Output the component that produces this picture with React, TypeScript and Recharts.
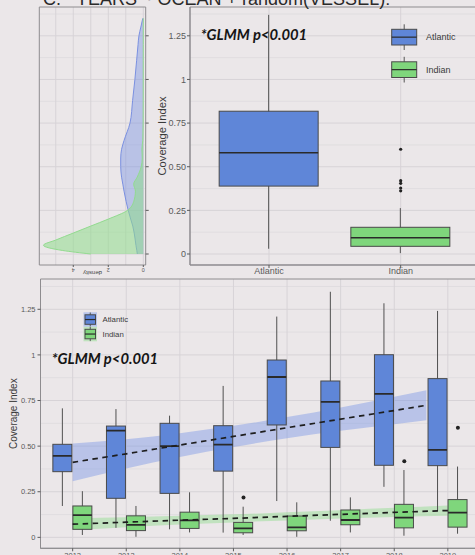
import React from 'react';
import {
  ComposedChart,
  Bar,
  Cell,
  XAxis,
  YAxis,
  CartesianGrid,
  Area,
  Line,
  Scatter,
  ReferenceArea,
} from 'recharts';

// ---------- shared ----------
const yTicks = [0, 0.25, 0.5, 0.75, 1, 1.25];
const yTickLabels = ['0', '0.25', '0.50', '0.75', '1', '1.25'];
const yMinor = [0.125, 0.375, 0.625, 0.875, 1.125, 1.375];
const oceans = ['Atlantic', 'Indian'];
const boxColors = ['#5f86d8', '#7fd67c'];
const bandColors = ['#6f8ee6', '#8fdc8c'];

// ---------- density panel ----------
const densityCov = [0, 0.02, 0.05, 0.08, 0.12, 0.16, 0.2, 0.25, 0.3, 0.36, 0.4, 0.44, 0.5, 0.55, 0.6, 0.65, 0.75, 0.88, 1.0, 1.11, 1.2, 1.25, 1.3, 1.35];
const densityAtl = [0.34, 0.37, 0.42, 0.46, 0.52, 0.6, 0.72, 0.86, 0.98, 1.1, 1.17, 1.24, 1.29, 1.29, 1.24, 1.1, 0.76, 0.61, 0.48, 0.38, 0.3, 0.25, 0.14, 0.03];
const densityInd = [3.0, 4.6, 5.7, 5.0, 4.0, 3.0, 2.0, 0.9, 0.55, 0.45, 0.55, 0.35, 0.12, 0.06, 0.08, 0.03, 0.01, 0.005, 0.004, 0.003, 0.002, 0.002, 0.001, 0.0];
const densityTicks = [0, 2, 4];
const densityGrid = [0, 1, 2, 3, 4, 5];

// ---------- overall boxplot (top right) ----------
const oceanMin = [0.03, 0.005];
const oceanQ1 = [0.389, 0.044];
const oceanMed = [0.58, 0.093];
const oceanQ3 = [0.818, 0.153];
const oceanMax = [1.37, 0.263];
const oceanOutlierOcean = ['Indian', 'Indian', 'Indian', 'Indian', 'Indian'];
const oceanOutlierValue = [0.6, 0.42, 0.405, 0.378, 0.362];

// ---------- yearly boxplot (bottom) ----------
const years = ['2012', '2013', '2014', '2015', '2016', '2017', '2018', '2019'];
const atlMin = [0.172, 0.052, 0.044, 0.026, 0.199, 0.091, 0.277, 0.144];
const atlQ1 = [0.36, 0.214, 0.241, 0.363, 0.616, 0.493, 0.395, 0.393];
const atlMed = [0.447, 0.585, 0.5, 0.508, 0.879, 0.742, 0.786, 0.48];
const atlQ3 = [0.51, 0.61, 0.625, 0.612, 0.972, 0.857, 1.001, 0.87];
const atlMax = [0.707, 0.703, 0.667, 0.83, 1.21, 1.346, 1.283, 1.241];
const indMin = [0.013, 0.003, 0.027, 0.013, 0.003, 0.027, 0.009, 0.02];
const indQ1 = [0.044, 0.037, 0.049, 0.025, 0.036, 0.069, 0.052, 0.056];
const indMed = [0.122, 0.068, 0.093, 0.049, 0.055, 0.095, 0.108, 0.135];
const indQ3 = [0.172, 0.118, 0.138, 0.082, 0.117, 0.15, 0.181, 0.207];
const indMax = [0.253, 0.172, 0.247, 0.168, 0.192, 0.219, 0.369, 0.388];
const yearOutlierYear = ['2015', '2018', '2019'];
const yearOutlierValue = [0.219, 0.417, 0.601];

const atlTrendX = [0, 1, 2, 3, 4, 5, 6, 6.6];
const atlTrendFit = [0.411, 0.458, 0.506, 0.553, 0.601, 0.648, 0.695, 0.724];
const atlTrendLo = [0.308, 0.378, 0.441, 0.495, 0.543, 0.584, 0.62, 0.642];
const atlTrendHi = [0.514, 0.538, 0.571, 0.611, 0.659, 0.712, 0.77, 0.806];
const indTrendX = [0, 1, 2, 3, 4, 5, 6, 7];
const indTrendFit = [0.072, 0.083, 0.094, 0.104, 0.115, 0.126, 0.137, 0.147];
const indTrendLo = [0.04, 0.056, 0.07, 0.082, 0.093, 0.103, 0.112, 0.119];
const indTrendHi = [0.104, 0.11, 0.118, 0.126, 0.137, 0.149, 0.162, 0.175];

// ---------- built tables ----------
const densityData = densityCov.map((c, i) => ({ cov: c, atl: densityAtl[i], ind: densityInd[i] }));
const oceanData = oceans.map((o, i) => ({
  ocean: o,
  min: oceanMin[i], q1: oceanQ1[i], med: oceanMed[i], q3: oceanQ3[i], max: oceanMax[i],
}));
const oceanOutliers = oceanOutlierOcean.map((o, i) => ({ x: oceans.indexOf(o), y: oceanOutlierValue[i] }));
const yearData = years.map((y, i) => ({
  year: y,
  aMin: atlMin[i], aQ1: atlQ1[i], aMed: atlMed[i], aQ3: atlQ3[i], aMax: atlMax[i],
  iMin: indMin[i], iQ1: indQ1[i], iMed: indMed[i], iQ3: indQ3[i], iMax: indMax[i],
}));
const DODGE = 0.1875;
const yearOutliers = yearOutlierYear.map((y, i) => ({ x: years.indexOf(y) + DODGE, y: yearOutlierValue[i] }));
const atlTrend = atlTrendX.map((x, i) => ({ x, fit: atlTrendFit[i], lo: atlTrendLo[i], hi: atlTrendHi[i] }));
const indTrend = indTrendX.map((x, i) => ({ x, fit: indTrendFit[i], lo: indTrendLo[i], hi: indTrendHi[i] }));

const GRID = '#d7d3d7';
const GRID_MINOR = '#e0dde0';
const BORDER = '#8e8c8f';
const TICK = '#5a5a5a';

function makeBox(keys: { min: string; q1: string; med: string; q3: string; max: string }, medW: number) {
  return (props: any) => {
    const { x, y, width, height, payload, fill } = props;
    const lo = payload[keys.min];
    const hi = payload[keys.max];
    const pos = (v: number) => y + (height * (hi - v)) / (hi - lo);
    const cx = x + width / 2;
    return (
      <g>
        <line x1={cx} x2={cx} y1={pos(hi)} y2={pos(lo)} stroke="#505050" strokeWidth={1} />
        <rect
          x={x}
          y={pos(payload[keys.q3])}
          width={width}
          height={pos(payload[keys.q1]) - pos(payload[keys.q3])}
          fill={fill}
          stroke="#4a4a4a"
          strokeWidth={1}
        />
        <line x1={x} x2={x + width} y1={pos(payload[keys.med])} y2={pos(payload[keys.med])} stroke="#2a2a2a" strokeWidth={medW} />
      </g>
    );
  };
}

const dot = (r: number) => (p: any) => <circle cx={p.cx} cy={p.cy} r={r} fill="#222" />;

const fmtY = (v: number) => {
  const i = yTicks.indexOf(v);
  return i >= 0 ? yTickLabels[i] : '';
};

function DensityTick(props: any) {
  const { x, y, payload } = props;
  return (
    <text x={x} y={y + 3} fontSize={5.5} fill={TICK} textAnchor="middle" transform={`rotate(180 ${x} ${y + 1.5})`}>
      {String(payload.value)}
    </text>
  );
}

function DensityLabel(props: any) {
  const vb = props.viewBox;
  const cx = vb.x + vb.width / 2;
  const cy = vb.y + 8;
  return (
    <text x={cx} y={cy + 2} fontSize={6} fill="#444" textAnchor="middle" transform={`rotate(180 ${cx} ${cy})`}>
      density
    </text>
  );
}

function LegendKey({ x, y, w, h, color, bg, whisk }: any) {
  return (
    <g>
      {bg && <rect x={x - 1.5} y={y - 2.5} width={w + 3} height={h + 5} fill={bg} />}
      <line x1={x + w / 2} x2={x + w / 2} y1={y - whisk} y2={y + h + whisk} stroke="#555" strokeWidth={1} />
      <rect x={x} y={y} width={w} height={h} fill={color} stroke="#4a4a4a" strokeWidth={1} />
      <line x1={x} x2={x + w} y1={y + h / 2} y2={y + h / 2} stroke="#2a2a2a" strokeWidth={1.2} />
    </g>
  );
}

export default function App() {
  return (
    <div
      style={{
        position: 'absolute',
        left: 0,
        top: 0,
        width: 475,
        height: 555,
        overflow: 'hidden',
        background: '#ebe7e9',
        fontFamily: '"Liberation Sans", Arial, sans-serif',
      }}
    >
      {/* density panel */}
      <div style={{ position: 'absolute', left: 0, top: 0 }}>
        <ComposedChart
          width={160}
          height={285}
          data={densityData}
          layout="vertical"
          margin={{ top: 7, right: 0, bottom: 0, left: 39.3 }}
        >
          <CartesianGrid horizontalValues={yMinor} vertical={false} stroke={GRID_MINOR} />
          <CartesianGrid horizontalValues={yTicks} verticalValues={densityGrid} stroke={GRID} />
          <XAxis
            type="number"
            domain={[-0.137, 5.94]}
            allowDataOverflow
            reversed
            ticks={densityTicks}
            height={20}
            tickSize={2}
            tickMargin={1}
            axisLine={false}
            tickLine={{ stroke: TICK }}
            tick={<DensityTick />}
            label={<DensityLabel />}
          />
          <YAxis
            type="number"
            dataKey="cov"
            orientation="right"
            domain={[-0.063, 1.415]}
            allowDataOverflow
            reversed
            ticks={yTicks}
            width={14.3}
            tickSize={3}
            axisLine={false}
            tickLine={{ stroke: TICK }}
            tickFormatter={() => ''}
          />
          <Area
            dataKey="atl"
            type="monotone"
            fill="#7d95e2"
            fillOpacity={0.45}
            stroke="#7a90e0"
            strokeWidth={1}
            isAnimationActive={false}
          />
          <Area
            dataKey="ind"
            type="monotone"
            fill="#8fdc8c"
            fillOpacity={0.55}
            stroke="#92da8f"
            strokeWidth={1}
            isAnimationActive={false}
          />
          <ReferenceArea x1={-0.137} x2={5.94} y1={-0.063} y2={1.415} fill="none" stroke={BORDER} strokeWidth={1} ifOverflow="visible" />
        </ComposedChart>
      </div>

      {/* overall boxplot */}
      <div style={{ position: 'absolute', left: 140, top: 0 }}>
        <ComposedChart
          width={344.7}
          height={285}
          data={oceanData}
          margin={{ top: 7, right: 5, bottom: 0, left: 0 }}
          barSize={99}
        >
          <CartesianGrid horizontalValues={yMinor} vertical={false} stroke={GRID_MINOR} />
          <CartesianGrid xAxisId="num" horizontalValues={yTicks} verticalValues={[0, 1]} stroke={GRID} />
          <XAxis
            xAxisId="cat"
            dataKey="ocean"
            type="category"
            padding={{ left: 13.17, right: 13.17 }}
            height={20}
            tickSize={3}
            tickMargin={0}
            axisLine={{ stroke: BORDER }}
            tickLine={{ stroke: TICK }}
            tick={{ fontSize: 9, fill: TICK }}
          />
          <XAxis xAxisId="num" dataKey="x" type="number" domain={[-0.6, 1.6]} allowDataOverflow hide />
          <YAxis
            dataKey="y"
            type="number"
            domain={[-0.063, 1.415]}
            allowDataOverflow
            ticks={yTicks}
            tickFormatter={fmtY}
            width={50}
            tickSize={3}
            tickMargin={1}
            axisLine={{ stroke: BORDER }}
            tickLine={{ stroke: TICK }}
            tick={{ fontSize: 9, fill: TICK }}
            label={{
              value: 'Coverage Index',
              angle: -90,
              position: 'insideLeft',
              offset: 21.7,
              style: { textAnchor: 'middle', fontSize: 11.2, fill: '#3a3a3a' },
            }}
          />
          <Bar
            xAxisId="cat"
            dataKey={(d: any) => [d.min, d.max]}
            shape={makeBox({ min: 'min', q1: 'q1', med: 'med', q3: 'q3', max: 'max' }, 1.6)}
            isAnimationActive={false}
          >
            {oceanData.map((d, i) => (
              <Cell key={d.ocean} fill={boxColors[i]} />
            ))}
          </Bar>
          <Scatter xAxisId="num" data={oceanOutliers} shape={dot(1.6)} isAnimationActive={false} />
          <ReferenceArea xAxisId="num" x1={-0.6} x2={1.6} y1={-0.063} y2={1.415} fill="none" stroke={BORDER} strokeWidth={1} ifOverflow="visible" />
        </ComposedChart>
      </div>

      {/* yearly boxplot */}
      <div style={{ position: 'absolute', left: 0, top: 270 }}>
        <ComposedChart
          width={485}
          height={300}
          data={yearData}
          margin={{ top: 9, right: 5, bottom: 0, left: 0 }}
          barSize={19}
          barGap={1}
        >
          <CartesianGrid horizontalValues={yMinor} vertical={false} stroke={GRID_MINOR} />
          <CartesianGrid xAxisId="num" horizontalValues={yTicks} verticalValues={[0, 1, 2, 3, 4, 5, 6, 7]} stroke={GRID} />
          <XAxis
            xAxisId="cat"
            dataKey="year"
            type="category"
            padding={{ left: 5.36, right: 5.36 }}
            height={21.7}
            tickSize={3}
            tickMargin={1}
            axisLine={{ stroke: BORDER }}
            tickLine={{ stroke: TICK }}
            tick={{ fontSize: 7.5, fill: TICK }}
          />
          <XAxis xAxisId="num" dataKey="x" type="number" domain={[-0.6, 7.6]} allowDataOverflow hide />
          <YAxis
            dataKey="y"
            type="number"
            domain={[-0.06, 1.416]}
            allowDataOverflow
            ticks={yTicks}
            tickFormatter={fmtY}
            width={40.5}
            tickSize={3}
            tickMargin={2}
            axisLine={{ stroke: BORDER }}
            tickLine={{ stroke: TICK }}
            tick={{ fontSize: 7.5, fill: TICK }}
            label={{
              value: 'Coverage Index',
              angle: -90,
              position: 'insideLeft',
              offset: 13,
              style: { textAnchor: 'middle', fontSize: 10, fill: '#3a3a3a' },
            }}
          />
          <Area
            xAxisId="num"
            data={atlTrend}
            dataKey={(d: any) => [d.lo, d.hi]}
            type="monotone"
            fill={bandColors[0]}
            fillOpacity={0.4}
            stroke="none"
            isAnimationActive={false}
          />
          <Area
            xAxisId="num"
            data={indTrend}
            dataKey={(d: any) => [d.lo, d.hi]}
            type="monotone"
            fill={bandColors[1]}
            fillOpacity={0.45}
            stroke="none"
            isAnimationActive={false}
          />
          <Bar
            xAxisId="cat"
            dataKey={(d: any) => [d.aMin, d.aMax]}
            fill={boxColors[0]}
            shape={makeBox({ min: 'aMin', q1: 'aQ1', med: 'aMed', q3: 'aQ3', max: 'aMax' }, 1.8)}
            isAnimationActive={false}
          />
          <Bar
            xAxisId="cat"
            dataKey={(d: any) => [d.iMin, d.iMax]}
            fill={boxColors[1]}
            shape={makeBox({ min: 'iMin', q1: 'iQ1', med: 'iMed', q3: 'iQ3', max: 'iMax' }, 1.8)}
            isAnimationActive={false}
          />
          <Line
            xAxisId="num"
            data={atlTrend}
            dataKey="fit"
            type="linear"
            stroke="#1e1e1e"
            strokeWidth={1.7}
            strokeDasharray="5.5 4.5"
            dot={false}
            activeDot={false}
            isAnimationActive={false}
          />
          <Line
            xAxisId="num"
            data={indTrend}
            dataKey="fit"
            type="linear"
            stroke="#1e1e1e"
            strokeWidth={1.7}
            strokeDasharray="5.5 4.5"
            dot={false}
            activeDot={false}
            isAnimationActive={false}
          />
          <Scatter xAxisId="num" data={yearOutliers} shape={dot(2)} isAnimationActive={false} />
          <ReferenceArea xAxisId="num" x1={-0.6} x2={7.6} y1={-0.06} y2={1.416} fill="none" stroke={BORDER} strokeWidth={1} ifOverflow="visible" />
        </ComposedChart>
      </div>

      {/* annotations and legends */}
      <svg width={475} height={555} style={{ position: 'absolute', left: 0, top: 0, pointerEvents: 'none' }}>
        <text x={43} y={4.5} fontSize={18} fill="#2a2a2a">
          C.{'\u00a0\u00a0\u00a0'}YEARS ~ OCEAN + random(VESSEL):
        </text>
        <text
          x={200.7}
          y={40}
          fontSize={15.5}
          fontWeight={700}
          fontStyle="italic"
          fontFamily="Lato, 'Open Sans', sans-serif"
          fill="#151515"
          textLength={106.5}
          lengthAdjust="spacingAndGlyphs"
        >
          *GLMM p&lt;0.001
        </text>
        <text
          x={51.7}
          y={363.5}
          fontSize={15}
          fontWeight={700}
          fontStyle="italic"
          fontFamily="Lato, 'Open Sans', sans-serif"
          fill="#151515"
          textLength={106.5}
          lengthAdjust="spacingAndGlyphs"
        >
          *GLMM p&lt;0.001
        </text>
        {oceans.map((o, i) => (
          <g key={'tl' + o}>
            <LegendKey x={391.7} y={29.3 + i * 32.5} w={25} h={15.7} color={boxColors[i]} whisk={5} />
            <text x={426} y={40.3 + i * 32.5} fontSize={9} fill="#3a3a3a">
              {o}
            </text>
          </g>
        ))}
        {oceans.map((o, i) => (
          <g key={'bl' + o}>
            <LegendKey
              x={85}
              y={314.8 + i * 14.5}
              w={10.5}
              h={9.5}
              color={boxColors[i]}
              bg={i === 0 ? '#b7c4ea' : '#bfe3bd'}
              whisk={2.3}
            />
            <text x={102.5} y={322.3 + i * 14.5} fontSize={7.8} fill="#3a3a3a">
              {o}
            </text>
          </g>
        ))}
      </svg>
    </div>
  );
}
